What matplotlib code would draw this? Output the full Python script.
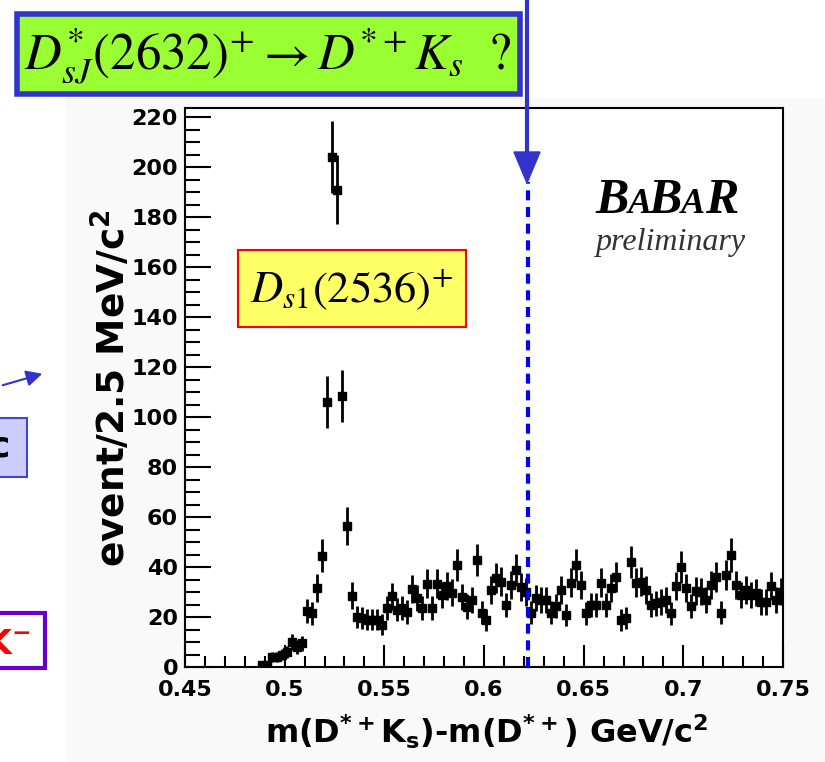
# D*+ Ks mass difference spectrum (BaBar preliminary) with slide annotations

# Importing the libraries
import numpy as np
import matplotlib.pyplot as plt
from matplotlib.patches import Rectangle, Polygon, FancyArrowPatch

plt.rcParams['mathtext.fontset'] = 'custom'
plt.rcParams['mathtext.rm'] = 'DejaVu Sans:bold'
plt.rcParams['mathtext.it'] = 'DejaVu Sans:bold'
plt.rcParams['mathtext.bf'] = 'DejaVu Sans:bold'

# Data (2.5 MeV bins)
first_bin = 0.48875   # centre of the first filled bin, GeV
bin_width = 0.0025
counts = [1, 1, 4, 4, 5, 6, 10, 8, 9.5, 22.5,
          21.5, 31.5, 44.5, 106, 204, 191, 108.5, 56.5, 28.5, 20,
          19.5, 19, 19, 19, 17, 23.5, 28.3, 23, 23.7, 22,
          31.3, 27.5, 23.7, 33.4, 23.5, 33.4, 28.8, 32.4, 29.7, 40.8,
          27.9, 24.1, 26.8, 42.8, 21.7, 18.8, 30.8, 35.7, 34.1, 24.8,
          32.8, 38.8, 32.1, 30, 21.7, 27.5, 26.8, 26.8, 21.7, 24.4,
          30.8, 20.8, 33.7, 40.8, 32.8, 21.5, 24.8, 24.8, 33.7, 24.8,
          31.5, 36.1, 18.8, 19.5, 42.1, 33.7, 34.1, 30.8, 24.8, 25.5,
          26.1, 26.8, 21.5, 32.4, 39.9, 31.5, 24.4, 30.5, 30.1, 26.8,
          32.8, 35.9, 21.7, 36.8, 44.8, 32.8, 28.8, 30.8, 28.8, 29.7,
          26.1, 26.1, 32.4, 26.8, 30.1]
x_ticks = [0.45, 0.5, 0.55, 0.6, 0.65, 0.7, 0.75]
y_ticks = [0, 20, 40, 60, 80, 100, 120, 140, 160, 180, 200, 220]
dsj_mass_diff = 0.622   # D_sJ(2632) - D*+ , GeV
dsj_line_top = 194

masses = first_bin + bin_width * np.arange(len(counts))
errors = np.sqrt(counts)

W, H = 825, 762
def fx(px):
    return px / W
def fy(py):
    return 1 - py / H

fig = plt.figure(figsize=(8.25, 7.62), dpi=100)

# light grey canvas behind the ROOT plot
fig.patches.append(Rectangle((fx(66), 0), 1 - fx(66), fy(98), transform=fig.transFigure,
                             facecolor='#f9f9f9', edgecolor='none', zorder=-5))

ax = fig.add_axes([fx(185), fy(667), fx(783) - fx(185), fy(108) - fy(667)])
ax.set_facecolor('white')
ax.errorbar(masses, counts, yerr=errors, xerr=bin_width / 2, fmt='s', color='black',
            ms=6, elinewidth=2, capsize=0, zorder=3)

ax.set_xlim(0.45, 0.75)
ax.set_ylim(0, 223.6)
ax.set_xticks(x_ticks)
ax.set_xticklabels([('%g' % t) for t in x_ticks])
ax.set_yticks(y_ticks)
ax.set_xticks(np.arange(0.45, 0.751, 0.01), minor=True)
ax.set_yticks(np.arange(0, 224, 5), minor=True)
ax.tick_params(which='both', direction='in', width=1.5, top=False, right=False)
ax.tick_params(axis='x', which='major', length=16, pad=9)
ax.tick_params(axis='x', which='minor', length=8)
ax.tick_params(axis='y', which='major', length=19, pad=5)
ax.tick_params(axis='y', which='minor', length=11)
for lab in ax.get_xticklabels() + ax.get_yticklabels():
    lab.set_fontfamily('DejaVu Sans')
    lab.set_fontweight('bold')
    lab.set_fontsize(16)
for s in ax.spines.values():
    s.set_linewidth(1.5)

# axis titles
fig.text(fx(487), fy(732), r'm(D$^{*+}$K$_{s}$)-m(D$^{*+}$) GeV/c$^{2}$', ha='center', va='center',
         fontsize=23, fontweight='bold', family='DejaVu Sans')
fig.text(fx(112), fy(388), r'event/2.5 MeV/c$^{2}$', ha='center', va='center', rotation=90,
         fontsize=27, fontweight='bold', family='DejaVu Sans')

# dashed line at the D_sJ(2632) position
ax.plot([dsj_mass_diff, dsj_mass_diff], [0, dsj_line_top], color='#0000ff', lw=3,
        dashes=(2.4, 1.6), zorder=4, clip_on=False)

# solid line + arrow head coming down from the title box
fig.add_artist(plt.Line2D([fx(527), fx(527)], [fy(2), fy(156)], color='#3333cc', lw=3))
fig.add_artist(Polygon([[fx(514), fy(152)], [fx(540), fy(152)], [fx(527), fy(183)]],
                       closed=True, transform=fig.transFigure, facecolor='#3333cc',
                       edgecolor='#3333cc'))

# title box
fig.add_artist(Rectangle((fx(17), fy(94)), fx(520) - fx(17), fy(14) - fy(94), transform=fig.transFigure,
                         facecolor='#99ff33', edgecolor='#3333cc', lw=4))
fig.text(fx(268), fy(55), r'$D^{*}_{sJ}(2632)^{+}\rightarrow D^{*+}K_{s}\ \ ?$', ha='center', va='center',
         fontsize=36.5, math_fontfamily='stix')

# D_s1 label
fig.add_artist(Rectangle((fx(238), fy(327)), fx(466) - fx(238), fy(250) - fy(327), transform=fig.transFigure,
                         facecolor='#ffff66', edgecolor='#ff0000', lw=1.5))
fig.text(fx(352), fy(290), r'$D_{s1}(2536)^{+}$', ha='center', va='center',
         fontsize=32, math_fontfamily='stix')

# BaBar logo
logo = [('B', 595, 36), ('A', 628, 26), ('B', 648, 36), ('A', 681, 26), ('R', 705, 36)]
for letter, px, size in logo:
    fig.text(fx(px), fy(213), letter, ha='left', va='baseline', fontsize=size,
             family='Liberation Serif', style='italic', fontweight='bold')
fig.text(fx(671), fy(250), 'preliminary', ha='center', va='baseline', fontsize=23,
         family='Liberation Serif', style='italic', color='#333333')

# cut-off pieces of other slide items on the left
fig.add_artist(FancyArrowPatch((fx(0), fy(386)), (fx(45), fy(373)), transform=fig.transFigure,
                               arrowstyle='-|>', mutation_scale=24, color='#3333cc', lw=1.5))
fig.add_artist(Rectangle((fx(-10), fy(477)), fx(37), fy(418) - fy(477), transform=fig.transFigure,
                         facecolor='#ccccff', edgecolor='#4444cc', lw=1.5))
fig.text(fx(10), fy(447), 'c', ha='right', va='center', fontsize=26, fontweight='bold',
         family='DejaVu Sans')
fig.add_artist(Rectangle((fx(-10), fy(668)), fx(55), fy(613) - fy(668), transform=fig.transFigure,
                         facecolor='white', edgecolor='#6600cc', lw=3))
fig.text(fx(30), fy(645), r'K$^{-}$', ha='right', va='center', fontsize=24, fontweight='bold',
         family='DejaVu Sans', color='#ff0000')

plt.savefig('out.png', dpi=100)
